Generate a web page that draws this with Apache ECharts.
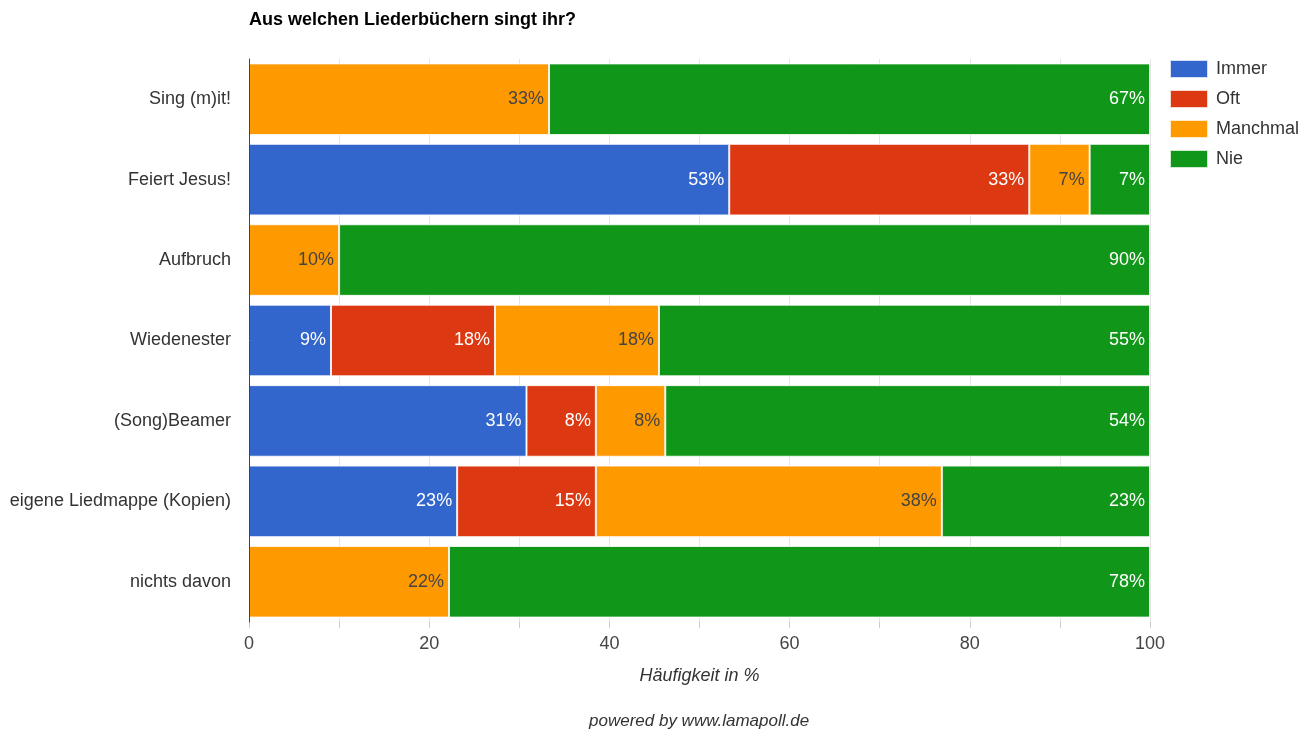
<!DOCTYPE html>
<html><head><meta charset="utf-8">
<script src="https://cdn.jsdelivr.net/npm/echarts@6/dist/echarts.min.js"></script>
<style>html,body{margin:0;padding:0;background:#fff}#c{width:1314px;height:733px}</style>
</head><body><div id="c"></div>
<script>
var categories = ["Sing (m)it!", "Feiert Jesus!", "Aufbruch", "Wiedenester", "(Song)Beamer", "eigene Liedmappe (Kopien)", "nichts davon"];
var immer    = [0, 53.3, 0, 9.1, 30.8, 23.1, 0];
var oft      = [0, 33.3, 0, 18.2, 7.7, 15.4, 0];
var manchmal = [33.3, 6.7, 10, 18.2, 7.7, 38.4, 22.2];
var nie      = [66.7, 6.7, 90, 54.5, 53.8, 23.1, 77.8];
var xTicks = [0, 20, 40, 60, 80, 100];

var font = "'Liberation Sans', Arial, sans-serif";
function mk(name, data, color, labelColor) {
  return {
    name: name, type: 'bar', stack: 'a', data: data, barCategoryGap: '11%',
    itemStyle: { color: color, borderColor: 'rgba(255,255,255,0.8)', borderWidth: 1 },
    label: { show: true, position: 'insideRight', distance: 5, color: labelColor, fontFamily: font, fontSize: 18,
      formatter: function (p) { return p.value > 0 ? Math.round(p.value) + '%' : ''; } }
  };
}
var chart = echarts.init(document.getElementById('c'));
chart.setOption({
  animation: false,
  title: { text: 'Aus welchen Liederbüchern singt ihr?', left: 249, top: 11, padding: 0,
    textStyle: { fontFamily: font, fontSize: 18, fontWeight: 'bold', color: '#000' } },
  legend: { orient: 'vertical', left: 1169, top: 59, padding: 0, itemWidth: 38, itemHeight: 18, itemGap: 10,
    icon: 'rect', textStyle: { fontFamily: font, fontSize: 18, color: '#333', padding: [0, 0, 0, 3] },
    data: ['Immer', 'Oft', 'Manchmal', 'Nie'] },
  grid: { left: 249, right: 164, top: 59, bottom: 111 },
  xAxis: { type: 'value', min: 0, max: 100, interval: 10,
    name: 'Häufigkeit in %', nameLocation: 'middle', nameGap: 45,
    nameTextStyle: { fontFamily: font, fontSize: 18, fontStyle: 'italic', color: '#333' },
    axisLine: { show: false },
    axisTick: { show: true, length: 6, lineStyle: { color: '#ccc' } },
    axisLabel: { fontFamily: font, fontSize: 18, color: '#444', margin: 13,
      formatter: function (v) { return xTicks.indexOf(v) >= 0 ? String(v) : ''; } },
    splitLine: { show: true, lineStyle: { color: '#e4e4e4' } } },
  yAxis: { type: 'category', data: categories, inverse: true, z: 5,
    axisLine: { show: true, lineStyle: { color: '#444' } },
    axisTick: { show: false },
    axisLabel: { fontFamily: font, fontSize: 18, color: '#333', margin: 18, padding: [4, 0, 0, 0] } },
  graphic: [{ type: 'text', left: 589, top: 713,
    style: { text: 'powered by www.lamapoll.de', font: 'italic 17px ' + font, fill: '#333' } }],
  series: [
    mk('Immer', immer, '#3366cc', '#fff'),
    mk('Oft', oft, '#dc3912', '#fff'),
    mk('Manchmal', manchmal, '#ff9900', '#444'),
    mk('Nie', nie, '#109618', '#fff')
  ]
});
</script></body></html>
